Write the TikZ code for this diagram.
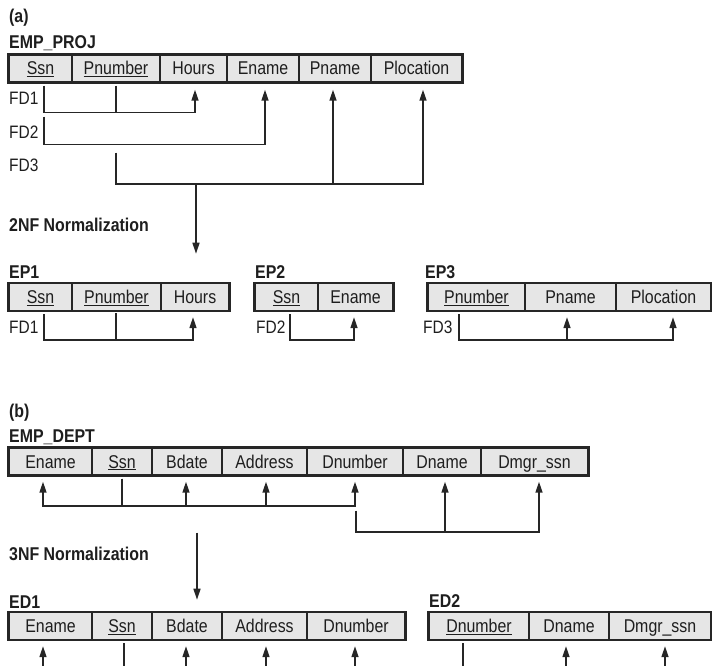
\documentclass[tikz,border=0pt]{standalone}
\usepackage{fontspec}
\setmainfont{Liberation Sans}[FakeStretch=0.86]
\usetikzlibrary{arrows.meta}

\definecolor{linec}{HTML}{262626}
\definecolor{cellc}{HTML}{E6E6E6}
\definecolor{textc}{HTML}{1E1E1E}

\tikzset{
  cell/.style={draw=linec, fill=cellc, line width=1.4pt, inner sep=0pt,
    minimum height=27pt, text height=13pt, text depth=0pt, text=textc,
    font=\fontsize{18.5}{21}\selectfont},
  frame/.style={draw=linec, line width=2.2pt},
  title/.style={anchor=west, inner sep=0pt, text=textc, font=\fontsize{18.5}{21}\selectfont\bfseries},
  fdlabel/.style={anchor=west, inner sep=0pt, text=textc, font=\fontsize{18}{21}\selectfont},
  fd/.style={draw=linec, line width=1.6pt},
  fdarrow/.style={fd, -{Triangle[length=11pt,width=7pt]}}
}

\begin{document}
\begin{tikzpicture}[x=1pt,y=-1pt]
    \useasboundingbox (0,0) rectangle (712,666);
    \clip (0,0) rectangle (712,666);
    % (a) EMP_PROJ
    \node[title] (lblA) at (9,18) {(a)};
    \node[title] (tEmpProj) at (9,43) {EMP\_PROJ};
    \node[cell, minimum width=63pt] (pSsn) at (40.5,68.5) {\underline{Ssn}};
    \node[cell, minimum width=88pt] (pPnum) at (116,68.5) {\underline{Pnumber}};
    \node[cell, minimum width=67pt] (pHours) at (193.5,68.5) {Hours};
    \node[cell, minimum width=72pt] (pEname) at (263,68.5) {Ename};
    \node[cell, minimum width=72pt] (pPname) at (335,68.5) {Pname};
    \node[cell, minimum width=91pt] (pPloc) at (416.5,68.5) {Plocation};
    \draw[frame] (pSsn.north west) rectangle (pPloc.south east);
    \node[fdlabel] (pFD1) at (9,98) {FD1};
    \node[fdlabel] (pFD2) at (9,132) {FD2};
    \node[fdlabel] (pFD3) at (9,165) {FD3};
    \draw[fdarrow] ([xshift=3.5pt,yshift=-3pt]pSsn.south) -- ++(0,27) -| ([xshift=1.5pt,yshift=-7pt]pHours.south);
    \draw[fd] ([yshift=-3pt]pPnum.south) -- ++(0,27);
    \draw[fdarrow] ([xshift=3.5pt,yshift=-34pt]pSsn.south) -- ++(0,28) -| ([xshift=2pt,yshift=-7pt]pEname.south);
    \draw[fdarrow] ([yshift=-70pt]pPnum.south) -- ++(0,31) -| ([xshift=6.5pt,yshift=-7pt]pPloc.south);
    \draw[fdarrow] ([xshift=-2pt,yshift=-101pt]pPname.south) -- ([xshift=-2pt,yshift=-7pt]pPname.south);
    \draw[fdarrow] ([xshift=2.5pt,yshift=-101pt]pHours.south) -- ++(0,70);
    \node[title] (t2NF) at (9,225) {2NF Normalization};
    % EP1
    \node[title] (tEP1) at (9,272) {EP1};
    \node[cell, minimum width=63pt] (eSsn) at (40.5,297) {\underline{Ssn}};
    \node[cell, minimum width=89pt] (ePnum) at (116.5,297) {\underline{Pnumber}};
    \node[cell, minimum width=68pt] (eHours) at (195,297) {Hours};
    \draw[frame] (eSsn.north west) rectangle (eHours.south east);
    \node[fdlabel] (eFD1) at (9,327) {FD1};
    \draw[fdarrow] ([xshift=3.5pt,yshift=-3pt]eSsn.south) -- ++(0,26) -| ([xshift=-2pt,yshift=-6pt]eHours.south);
    \draw[fd] ([xshift=-0.5pt,yshift=-2pt]ePnum.south) -- ++(0,27);
    % EP2
    \node[title] (tEP2) at (255,272) {EP2};
    \node[cell, minimum width=63pt] (sSsn) at (286.5,297) {\underline{Ssn}};
    \node[cell, minimum width=75pt] (sEname) at (355.5,297) {Ename};
    \draw[frame] (sSsn.north west) rectangle (sEname.south east);
    \node[fdlabel] (sFD2) at (256,327) {FD2};
    \draw[fdarrow] ([xshift=3.5pt,yshift=-3pt]sSsn.south) -- ++(0,26) -| ([xshift=-1.5pt,yshift=-6pt]sEname.south);
    % EP3
    \node[title] (tEP3) at (425,272) {EP3};
    \node[cell, minimum width=97pt] (fPnum) at (476.5,297) {\underline{Pnumber}};
    \node[cell, minimum width=91pt] (fPname) at (570.5,297) {Pname};
    \node[cell, minimum width=95pt] (fPloc) at (663.5,297) {Plocation};
    \draw[frame] (fPnum.north west) rectangle (fPloc.south east);
    \node[fdlabel] (fFD3) at (423,327) {FD3};
    \draw[fdarrow] ([xshift=-17.5pt,yshift=-3pt]fPnum.south) -- ++(0,26) -| ([xshift=9.5pt,yshift=-6pt]fPloc.south);
    \draw[fdarrow] ([xshift=-3.5pt,yshift=-29pt]fPname.south) -- ([xshift=-3.5pt,yshift=-6pt]fPname.south);
    % (b) EMP_DEPT
    \node[title] (lblB) at (9,413) {(b)};
    \node[title] (tEmpDept) at (9,437) {EMP\_DEPT};
    \node[cell, minimum width=83pt] (dEname) at (50.5,461.5) {Ename};
    \node[cell, minimum width=60pt] (dSsn) at (122,461.5) {\underline{Ssn}};
    \node[cell, minimum width=70pt] (dBdate) at (187,461.5) {Bdate};
    \node[cell, minimum width=85pt] (dAddr) at (264.5,461.5) {Address};
    \node[cell, minimum width=96pt] (dDnum) at (355,461.5) {Dnumber};
    \node[cell, minimum width=78pt] (dDname) at (442,461.5) {Dname};
    \node[cell, minimum width=107pt] (dMgr) at (534.5,461.5) {Dmgr\_ssn};
    \draw[frame] (dEname.north west) rectangle (dMgr.south east);
    \draw[fdarrow] ([yshift=-3pt]dSsn.south) -- ++(0,27) -| ([xshift=-7.5pt,yshift=-6pt]dEname.south);
    \draw[fdarrow] ([yshift=-3pt]dSsn.south) -- ++(0,27) -| ([yshift=-6pt]dDnum.south);
    \draw[fdarrow] ([xshift=-1pt,yshift=-30pt]dBdate.south) -- ([xshift=-1pt,yshift=-6pt]dBdate.south);
    \draw[fdarrow] ([xshift=1.5pt,yshift=-30pt]dAddr.south) -- ([xshift=1.5pt,yshift=-6pt]dAddr.south);
    \draw[fdarrow] ([xshift=1pt,yshift=-35pt]dDnum.south) -- ++(0,21) -| ([xshift=4.5pt,yshift=-6pt]dMgr.south);
    \draw[fdarrow] ([xshift=3pt,yshift=-56pt]dDname.south) -- ([xshift=3pt,yshift=-6pt]dDname.south);
    \draw[fdarrow] ([xshift=10pt,yshift=-57pt]dBdate.south) -- ++(0,67);
    \node[title] (t3NF) at (9,554) {3NF Normalization};
    % ED1
    \node[title] (tED1) at (9,602) {ED1};
    \node[cell, minimum width=83pt] (xEname) at (50.5,626) {Ename};
    \node[cell, minimum width=60pt] (xSsn) at (122,626) {\underline{Ssn}};
    \node[cell, minimum width=70pt] (xBdate) at (187,626) {Bdate};
    \node[cell, minimum width=85pt] (xAddr) at (264.5,626) {Address};
    \node[cell, minimum width=98pt] (xDnum) at (356,626) {Dnumber};
    \draw[frame] (xEname.north west) rectangle (xDnum.south east);
    \draw[fdarrow] ([xshift=-7.5pt,yshift=-30pt]xEname.south) -- ([xshift=-7.5pt,yshift=-6pt]xEname.south);
    \draw[fd] ([xshift=2pt,yshift=-3pt]xSsn.south) -- ++(0,27);
    \draw[fdarrow] ([xshift=-1pt,yshift=-30pt]xBdate.south) -- ([xshift=-1pt,yshift=-6pt]xBdate.south);
    \draw[fdarrow] ([xshift=1.5pt,yshift=-30pt]xAddr.south) -- ([xshift=1.5pt,yshift=-6pt]xAddr.south);
    \draw[fdarrow] ([xshift=-1pt,yshift=-30pt]xDnum.south) -- ([xshift=-1pt,yshift=-6pt]xDnum.south);
    % ED2
    \node[title] (tED2) at (429,601) {ED2};
    \node[cell, minimum width=100pt] (yDnum) at (479,626) {\underline{Dnumber}};
    \node[cell, minimum width=80pt] (yDname) at (569,626) {Dname};
    \node[cell, minimum width=102pt] (yMgr) at (660,626) {Dmgr\_ssn};
    \draw[frame] (yDnum.north west) rectangle (yMgr.south east);
    \draw[fd] ([xshift=-16pt,yshift=-3pt]yDnum.south) -- ++(0,27);
    \draw[fdarrow] ([xshift=-3pt,yshift=-30pt]yDname.south) -- ([xshift=-3pt,yshift=-6pt]yDname.south);
    \draw[fdarrow] ([xshift=5pt,yshift=-30pt]yMgr.south) -- ([xshift=5pt,yshift=-6pt]yMgr.south);
\end{tikzpicture}
\end{document}
